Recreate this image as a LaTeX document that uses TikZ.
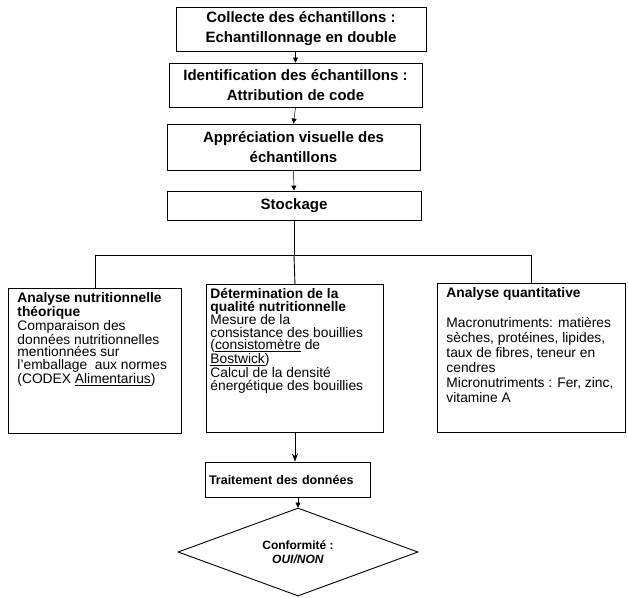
\documentclass[tikz,border=0pt]{standalone}
\usepackage{fontspec}
\setmainfont{Liberation Sans}
\usetikzlibrary{shapes.geometric,arrows.meta}

\tikzset{
  etape/.style={draw, line width=0.9pt, align=center, inner sep=0pt,
    font=\fontsize{15}{20}\selectfont\bfseries},
  bloc/.style={draw, line width=0.9pt, anchor=north west, inner ysep=4pt},
  fleche/.style={line width=0.5pt, -{Triangle[width=5pt,length=5pt]}},
  lien/.style={line width=0.9pt},
}
% texte aligne en haut dans les blocs d'analyse
\newcommand{\bloctexte}[4]{\parbox[t][#2][t]{#1}{\fontsize{13.8}{#3}\selectfont\raggedright #4}}

\begin{document}
\begin{tikzpicture}[x=1pt,y=-1pt]
    \useasboundingbox (0,0) rectangle (628,597);
    % etapes du haut
    \node[etape, minimum width=250pt, minimum height=44pt] (collecte) at (301,29)
      {Collecte des échantillons :\\Echantillonnage en double};
    \node[etape, minimum width=253pt, minimum height=44pt] (ident) at (295.5,85)
      {Identification des échantillons :\\Attribution de code};
    \node[etape, minimum width=253pt, minimum height=46pt] (appre) at (293.5,147)
      {Appréciation visuelle des\\échantillons};
    \node[etape, minimum width=254pt, minimum height=29pt] (stock) at (294,205.5)
      {Stockage};
    % les trois analyses
    \node[bloc, inner xsep=9pt] (theo) at (8,288)
      {\bloctexte{155pt}{137pt}{12.5pt}{\textbf{Analyse nutritionnelle}\\\textbf{théorique}\\
       Comparaison des\\données nutritionnelles\\mentionnées sur\\l'emballage~ aux normes\\
       (CODEX \underline{Alimentarius})}};
    \node[bloc, inner xsep=4pt] (qual) at (206,284)
      {\bloctexte{169pt}{140pt}{12.5pt}{\textbf{Détermination de la}\\\textbf{qualité nutritionnelle}\\
       Mesure de la\\consistance des bouillies\\(\underline{consistomètre} de\\\underline{Bostwick})\\
       Calcul de la densité\\énergétique des bouillies}};
    \node[bloc, inner xsep=9pt] (quant) at (437,283)
      {\bloctexte{170pt}{141pt}{15pt}{\textbf{Analyse quantitative}\\[15pt]
       Macronutriments: matières\\sèches, protéines, lipides,\\taux de fibres, teneur en\\
       cendres\\Micronutriments : Fer, zinc,\\vitamine A}};
    % fin
    \node[etape, text width=157pt, align=left, inner xsep=4pt, minimum height=35pt,
      font=\fontsize{12.5}{14}\selectfont\bfseries] (trait) at (287.5,479.5)
      {Traitement des données};
    \node[draw, line width=0.9pt, shape=diamond, aspect=2.7, inner sep=0pt,
      minimum width=240pt, minimum height=88pt, align=center,
      font=\fontsize{12}{14}\selectfont\bfseries] (conf) at (298,552)
      {Conformité :\\\textit{OUI/NON}};

    \draw[fleche] (ident.north |- collecte.south) -- (ident.north);
    \draw[fleche] (ident.south) -- (appre.north);
    \draw[fleche] (appre.south) -- (stock.north);
    \draw[lien] (stock.south) -- ++(0,35) coordinate (embranch);
    \draw[lien] (theo.north) |- (embranch) -| (quant.north);
    \draw[lien] (embranch) -- (qual.north);
    \draw[line width=0.6pt, -{Stealth[length=8pt,width=6pt]}] (qual.south) -- (qual.south |- trait.north);
    \draw[fleche] (conf.north |- trait.south) -- (conf.north);
\end{tikzpicture}
\end{document}
